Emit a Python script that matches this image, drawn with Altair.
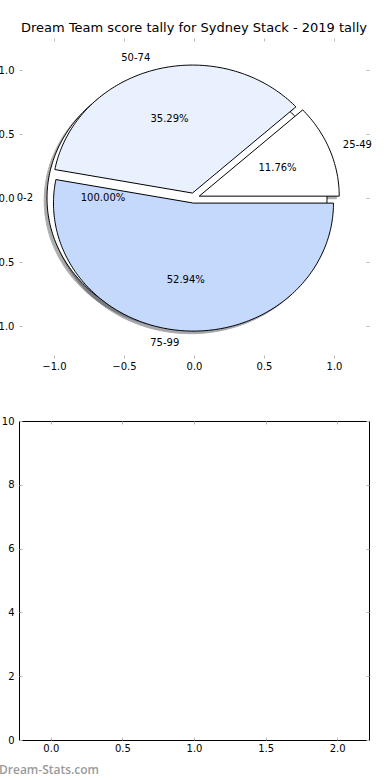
import math
import altair as alt
import pandas as pd

# ---------------- values ----------------
chart_title = "Dream Team score tally for Sydney Stack - 2019 tally"
brackets = ["25-49", "50-74", "75-99"]
counts = [2, 6, 9]
bracket_fills = ["#ffffff", "#e9f0fe", "#c5d9fd"]
bracket_explode = [0.04, 0.04, 0.04]
single_bracket = ["0-2"]
single_count = [1]
single_fill = ["#ffffff"]
single_explode = [0.05]
pie_ticks = [-1.0, -0.5, 0.0, 0.5, 1.0]
pie_limits = [-1.25, 1.25]
lower_x_ticks = [0.0, 0.5, 1.0, 1.5, 2.0]
lower_x_limits = [-0.222, 2.222]
lower_y_ticks = [0, 2, 4, 6, 8, 10]
lower_y_limits = [0, 10]
watermark = "Dream-Stats.com"

LABEL_DIST = 1.1
PCT_DIST = 0.6


def shade(hex_color):
    r, g, b = (int(hex_color[i:i + 2], 16) for i in (1, 3, 5))
    return "#%02x%02x%02x" % (int(r * 0.3), int(g * 0.3), int(b * 0.3))


def pie_rows(names, values, colors, explodes, prefix):
    total = float(sum(values))
    shapes, labels = [], []
    start = 0.0
    for k, (name, val, col, ex) in enumerate(zip(names, values, colors, explodes)):
        span = 360.0 * val / total
        mid = math.radians(start + span / 2.0)
        cx, cy = ex * math.cos(mid), ex * math.sin(mid)
        steps = max(4, int(math.ceil(span)))
        ring = []
        for j in range(steps + 1):
            a = math.radians(start + span * j / steps)
            ring.append((cx + math.cos(a), cy + math.sin(a)))
        pts = ring if span >= 359.999 else [(cx, cy)] + ring + [(cx, cy)]
        gid = "%s%d" % (prefix, k)
        for j, (px, py) in enumerate(pts):
            shapes.append(dict(g=gid, i=j, x=px, y=py, fill=col, shade=shade(col)))
        lx = cx + LABEL_DIST * math.cos(mid)
        ly = cy + LABEL_DIST * math.sin(mid)
        labels.append(dict(x=lx, y=ly, text=name, side="left" if lx > 0 else "right"))
        tx = cx + PCT_DIST * math.cos(mid)
        ty = cy + PCT_DIST * math.sin(mid)
        labels.append(dict(x=tx, y=ty, text="%.2f%%" % (100.0 * val / total), side="center"))
        start += span
    return shapes, labels


single_shapes, single_labels = pie_rows(single_bracket, single_count, single_fill, single_explode, "a")
main_shapes, main_labels = pie_rows(brackets, counts, bracket_fills, bracket_explode, "b")

single_df = pd.DataFrame(single_shapes)
main_df = pd.DataFrame(main_shapes)
shadow_df = pd.DataFrame(single_shapes + main_shapes)
label_df = pd.DataFrame(single_labels + main_labels)

TICK_GREY = "#b8b8b8"
FONT = "DejaVu Sans"
common_axis = dict(tickColor=TICK_GREY, tickWidth=1, tickSize=3, offset=-3, domain=False,
                   grid=False, title=None, labelFont=FONT, labelFontSize=10,
                   labelColor="black", labelOverlap=False)

pie_x = alt.Scale(domain=pie_limits, nice=False, zero=False)
pie_y = alt.Scale(domain=pie_limits, nice=False, zero=False)

ax_bottom = alt.Axis(orient="bottom", values=pie_ticks, format=".1f", labelPadding=3, **common_axis)
ax_left = alt.Axis(orient="left", values=pie_ticks, format=".1f", labelPadding=5, **common_axis)
ax_top = alt.Axis(orient="top", values=pie_ticks, labels=False, **common_axis)
ax_right = alt.Axis(orient="right", values=pie_ticks, labels=False, **common_axis)

shadow_layer = alt.Chart(shadow_df).transform_calculate(
    sx="datum.x - 0.02", sy="datum.y - 0.02"
).mark_line(strokeWidth=1, opacity=0.45).encode(
    x=alt.X("sx:Q", scale=pie_x, axis=ax_bottom),
    y=alt.Y("sy:Q", scale=pie_y, axis=ax_left),
    detail="g:N",
    order="i:Q",
    fill=alt.Fill("shade:N", scale=None),
    stroke=alt.Stroke("shade:N", scale=None),
)

single_layer = alt.Chart(single_df).mark_line(stroke="black", strokeWidth=1).encode(
    x=alt.X("x:Q", scale=pie_x, axis=ax_top),
    y=alt.Y("y:Q", scale=pie_y, axis=ax_right),
    detail="g:N",
    order="i:Q",
    fill=alt.Fill("fill:N", scale=None),
)

main_layer = alt.Chart(main_df).mark_line(stroke="black", strokeWidth=1).encode(
    x=alt.X("x:Q", scale=pie_x, axis=None),
    y=alt.Y("y:Q", scale=pie_y, axis=None),
    detail="g:N",
    order="i:Q",
    fill=alt.Fill("fill:N", scale=None),
)


def text_layer(side, align):
    return alt.Chart(label_df).transform_filter(
        alt.datum.side == side
    ).mark_text(align=align, baseline="middle", font=FONT, fontSize=10, color="black").encode(
        x=alt.X("x:Q", scale=pie_x, axis=None),
        y=alt.Y("y:Q", scale=pie_y, axis=None),
        text="text:N",
    )


top = alt.layer(
    shadow_layer, single_layer, main_layer,
    text_layer("left", "left"), text_layer("right", "right"), text_layer("center", "center"),
).resolve_axis(x="independent", y="independent").properties(
    width=350, height=320,
    title=alt.TitleParams(chart_title, font=FONT, fontSize=13, fontWeight="normal",
                          color="black", anchor="middle", frame="group", offset=3),
)

low_x = alt.Scale(domain=lower_x_limits, nice=False, zero=False)
low_y = alt.Scale(domain=lower_y_limits, nice=False, zero=False)
empty = pd.DataFrame({"x": pd.Series([], dtype=float), "y": pd.Series([], dtype=float)})

low_a = alt.Chart(empty).mark_point().encode(
    x=alt.X("x:Q", scale=low_x,
            axis=alt.Axis(orient="bottom", values=lower_x_ticks, format=".1f", labelPadding=3, **common_axis)),
    y=alt.Y("y:Q", scale=low_y,
            axis=alt.Axis(orient="left", values=lower_y_ticks, format="d", labelPadding=5, **common_axis)),
)
low_b = alt.Chart(empty).mark_point().encode(
    x=alt.X("x:Q", scale=low_x,
            axis=alt.Axis(orient="top", values=lower_x_ticks, labels=False, **common_axis)),
    y=alt.Y("y:Q", scale=low_y,
            axis=alt.Axis(orient="right", values=lower_y_ticks, labels=False, **common_axis)),
)

bottom = alt.layer(low_a, low_b).resolve_axis(x="independent", y="independent").properties(
    width=350, height=319,
    view=alt.ViewBackground(stroke="black", strokeWidth=1),
    title=alt.TitleParams(watermark, orient="bottom", anchor="start", frame="group", dx=-20, offset=12,
                          font="Open Sans", fontSize=12, fontWeight=600, color="#9a9a9a"),
)

chart = alt.vconcat(top, bottom, spacing=63, bounds="flush").properties(
    padding={"left": -11, "top": 21, "right": 5, "bottom": 0},
    background="white",
).configure_view(stroke=None)

chart.save("out.html", embed_options={"renderer": "svg", "actions": False})
